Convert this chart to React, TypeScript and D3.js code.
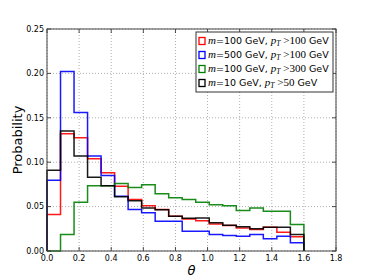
import React from 'react';
import * as d3 from 'd3';

// bin heights, 19 bins from 0 to 1.6
const redVals = [0.041, 0.132, 0.1275, 0.104, 0.088, 0.073, 0.058, 0.051, 0.0466, 0.039, 0.036, 0.034, 0.0305, 0.0287, 0.026, 0.0241, 0.0267, 0.0211, 0.016];
const blueVals = [0.0796, 0.202, 0.156, 0.107, 0.085, 0.0616, 0.0466, 0.043, 0.0335, 0.0335, 0.0223, 0.0223, 0.0185, 0.0174, 0.0167, 0.0185, 0.0137, 0.0167, 0.0092];
const greenVals = [0, 0.0185, 0.055, 0.0736, 0.0736, 0.076, 0.0715, 0.0745, 0.0646, 0.06, 0.058, 0.0548, 0.052, 0.051, 0.0455, 0.0485, 0.0447, 0.0447, 0.0298];
const blackVals = [0.0908, 0.135, 0.107, 0.083, 0.0736, 0.061, 0.0567, 0.0485, 0.0465, 0.039, 0.037, 0.0373, 0.0317, 0.029, 0.0272, 0.025, 0.0267, 0.0267, 0.0185];

const binMax = 1.6;
const xTicks = [0, 0.2, 0.4, 0.6, 0.8, 1.0, 1.2, 1.4, 1.6, 1.8];
const yTicks = [0, 0.05, 0.1, 0.15, 0.2, 0.25];

const series = [
  { vals: redVals, color: '#ff0000', m: '100', pt: '100' },
  { vals: blueVals, color: '#0000ff', m: '500', pt: '100' },
  { vals: greenVals, color: '#008000', m: '100', pt: '300' },
  { vals: blackVals, color: '#000000', m: '10', pt: '50' },
];

const W = 374;
const H = 280;
const margin = { top: 29, right: 38, bottom: 29, left: 47 };

export default function App() {
  const iw = W - margin.left - margin.right;
  const ih = H - margin.top - margin.bottom;
  const x = d3.scaleLinear().domain([0, 1.8]).range([0, iw]);
  const y = d3.scaleLinear().domain([0, 0.25]).range([ih, 0]);

  const stepPath = (vals: number[]) => {
    const n = vals.length;
    const w = binMax / n;
    const pts: [number, number][] = [[0, 0]];
    vals.forEach((v, i) => pts.push([i * w, v]));
    pts.push([binMax, vals[n - 1]]);
    pts.push([binMax, 0]);
    return d3.line<[number, number]>()
      .x(d => x(d[0]))
      .y(d => y(d[1]))
      .curve(d3.curveStepAfter)(pts) || '';
  };

  const tickFont = { fontFamily: 'DejaVu Sans', fontSize: 8 };
  const legX = 196;
  const legY = 32;

  return (
    <svg width={W} height={H} style={{ position: 'fixed', left: 0, top: 0, background: '#fff' }}>
      <rect width={W} height={H} fill="#fff" />
      <g transform={`translate(${margin.left},${margin.top})`}>
        {/* grid */}
        {xTicks.map(t => (
          <line key={'gx' + t} x1={x(t)} x2={x(t)} y1={0} y2={ih} stroke="#9a9a9a" strokeWidth={0.8} strokeDasharray="1,2" />
        ))}
        {yTicks.map(t => (
          <line key={'gy' + t} x1={0} x2={iw} y1={y(t)} y2={y(t)} stroke="#9a9a9a" strokeWidth={0.8} strokeDasharray="1,2" />
        ))}

        {/* histograms */}
        {series.map((s, i) => (
          <path key={i} d={stepPath(s.vals)} fill="none" stroke={s.color} strokeWidth={1.5} strokeOpacity={0.9} />
        ))}

        {/* ticks inside, all sides */}
        {xTicks.map(t => (
          <g key={'tx' + t}>
            <line x1={x(t)} x2={x(t)} y1={ih} y2={ih - 4} stroke="#222" strokeWidth={0.8} />
            <line x1={x(t)} x2={x(t)} y1={0} y2={4} stroke="#222" strokeWidth={0.8} />
            <text x={x(t)} y={ih + 10} textAnchor="middle" {...tickFont}>{t.toFixed(1)}</text>
          </g>
        ))}
        {yTicks.map(t => (
          <g key={'ty' + t}>
            <line x1={0} x2={4} y1={y(t)} y2={y(t)} stroke="#222" strokeWidth={0.8} />
            <line x1={iw} x2={iw - 4} y1={y(t)} y2={y(t)} stroke="#222" strokeWidth={0.8} />
            <text x={-3} y={y(t)} dy="0.35em" textAnchor="end" {...tickFont}>{t.toFixed(2)}</text>
          </g>
        ))}

        <rect x={0} y={0} width={iw} height={ih} fill="none" stroke="#444" strokeWidth={1} />
      </g>

      {/* axis labels */}
      <text x={(margin.left + W - margin.right) / 2} y={275} textAnchor="middle" fontFamily="DejaVu Sans" fontStyle="italic" fontSize={13}>θ</text>
      <text transform={`translate(22,${margin.top + ih / 2}) rotate(-90)`} textAnchor="middle" fontFamily="DejaVu Sans" fontSize={13}>Probability</text>

      {/* legend */}
      <rect x={legX} y={legY} width={137} height={60} fill="#fff" stroke="#333" strokeWidth={1} />
      {series.map((s, i) => {
        const cy = legY + 9 + i * 14;
        return (
          <g key={'leg' + i}>
            <rect x={legX + 3} y={cy - 3.5} width={6} height={7} fill="none" stroke={s.color} strokeWidth={1.3} />
            <text x={legX + 12} y={cy} dy="0.35em" fontFamily="DejaVu Sans" fontSize={9.5}>
              <tspan fontFamily="Liberation Serif" fontStyle="italic" fontSize={11}>m</tspan>
              <tspan>={s.m} GeV, </tspan>
              <tspan fontFamily="Liberation Serif" fontStyle="italic" fontSize={11}>p</tspan>
              <tspan fontFamily="Liberation Serif" fontStyle="italic" fontSize={7.5} dy={2}>T</tspan>
              <tspan fontFamily="Liberation Serif" fontSize={11} dy={-2}> &gt;{s.pt}</tspan>
              <tspan> GeV</tspan>
            </text>
          </g>
        );
      })}
    </svg>
  );
}
